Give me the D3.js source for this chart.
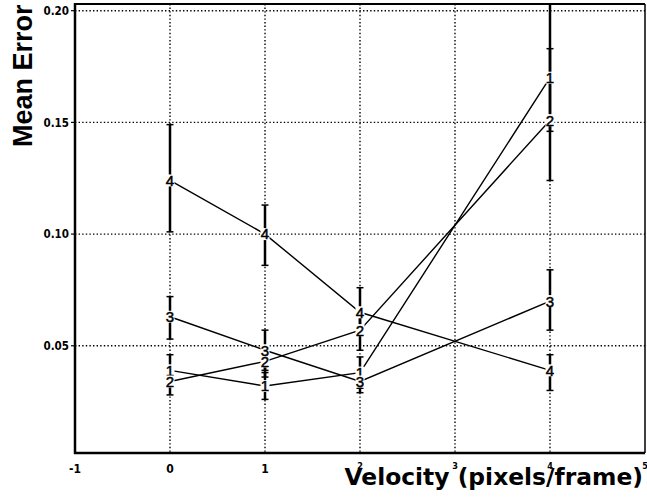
<!DOCTYPE html>
<html>
<head>
<meta charset="utf-8">
<script src="https://cdn.jsdelivr.net/npm/d3@7/dist/d3.min.js"></script>
<style>
  body { margin: 0; background: #fff; }
</style>
</head>
<body>
<script>
// data
var velocity = [0, 1, 2, 4];
var labels = ["1", "2", "3", "4"];

var mean1 = [0.039, 0.032, 0.038, 0.170];
var low1  = [0.032, 0.026, 0.031, 0.146];
var high1 = [0.046, 0.038, 0.045, 0.203];

var mean2 = [0.034, 0.043, 0.057, 0.151];
var low2  = [0.028, 0.036, 0.048, 0.124];
var high2 = [0.040, 0.049, 0.066, 0.183];

var mean3 = [0.063, 0.048, 0.034, 0.070];
var low3  = [0.053, 0.039, 0.029, 0.057];
var high3 = [0.072, 0.057, 0.039, 0.084];

var mean4 = [0.124, 0.100, 0.065, 0.039];
var low4  = [0.101, 0.086, 0.056, 0.030];
var high4 = [0.149, 0.113, 0.076, 0.046];

var xTicks = [-1, 0, 1, 2, 3, 4, 5];
var xGrid = [0, 1, 2, 3, 4];
var yTicks = [0.05, 0.10, 0.15, 0.20];

var width = 647, height = 497;
var pLeft = 75, pRight = 645, pTop = 4, pBottom = 453;

var series = [
  {name: labels[0], mean: mean1, low: low1, high: high1},
  {name: labels[1], mean: mean2, low: low2, high: high2},
  {name: labels[2], mean: mean3, low: low3, high: high3},
  {name: labels[3], mean: mean4, low: low4, high: high4}
];

var svg = d3.select("body").append("svg")
    .attr("width", width)
    .attr("height", height);

var x = d3.scaleLinear().domain([-1, 5]).range([pLeft, pRight]);
var y = d3.scaleLinear().domain([0.002, 0.203]).range([pBottom, pTop]);

// dotted grid
var grid = svg.append("g")
    .attr("stroke", "#000")
    .attr("stroke-width", 1.4)
    .attr("stroke-dasharray", "1.4,2.2");

grid.selectAll("line.vx")
  .data(xGrid)
  .enter().append("line")
    .attr("class", "vx")
    .attr("x1", function(d) { return x(d); })
    .attr("x2", function(d) { return x(d); })
    .attr("y1", pTop)
    .attr("y2", pBottom);

grid.selectAll("line.hy")
  .data(yTicks)
  .enter().append("line")
    .attr("class", "hy")
    .attr("x1", pLeft)
    .attr("x2", pRight)
    .attr("y1", function(d) { return y(d); })
    .attr("y2", function(d) { return y(d); });

// connecting lines
var line = d3.line()
    .x(function(d) { return x(d[0]); })
    .y(function(d) { return y(d[1]); });

svg.append("g").selectAll("path")
  .data(series)
  .enter().append("path")
    .attr("fill", "none")
    .attr("stroke", "#000")
    .attr("stroke-width", 1.4)
    .attr("d", function(s) { return line(velocity.map(function(v, i) { return [v, s.mean[i]]; })); });

// error bars
var bars = [];
series.forEach(function(s) {
  velocity.forEach(function(v, i) {
    bars.push({v: v, lo: s.low[i], hi: s.high[i], m: s.mean[i], name: s.name});
  });
});

var eb = svg.append("g").attr("stroke", "#000");

eb.selectAll("line.bar")
  .data(bars)
  .enter().append("line")
    .attr("class", "bar")
    .attr("stroke-width", 2.5)
    .attr("x1", function(d) { return x(d.v); })
    .attr("x2", function(d) { return x(d.v); })
    .attr("y1", function(d) { return y(d.lo); })
    .attr("y2", function(d) { return y(d.hi); });

eb.selectAll("line.caphi")
  .data(bars)
  .enter().append("line")
    .attr("class", "caphi")
    .attr("stroke-width", 1.5)
    .attr("x1", function(d) { return x(d.v) - 3.5; })
    .attr("x2", function(d) { return x(d.v) + 3.5; })
    .attr("y1", function(d) { return y(d.hi); })
    .attr("y2", function(d) { return y(d.hi); });

eb.selectAll("line.caplo")
  .data(bars)
  .enter().append("line")
    .attr("class", "caplo")
    .attr("stroke-width", 1.5)
    .attr("x1", function(d) { return x(d.v) - 3.5; })
    .attr("x2", function(d) { return x(d.v) + 3.5; })
    .attr("y1", function(d) { return y(d.lo); })
    .attr("y2", function(d) { return y(d.lo); });

// series number markers
var marks = svg.append("g").selectAll("g")
  .data(bars)
  .enter().append("g")
    .attr("transform", function(d) { return "translate(" + x(d.v) + "," + y(d.m) + ")"; });

marks.append("rect")
    .attr("x", -4.5)
    .attr("y", -6)
    .attr("width", 9)
    .attr("height", 12)
    .attr("fill", "#fff");

marks.append("text")
    .attr("text-anchor", "middle")
    .attr("dy", "0.36em")
    .attr("font-family", "Liberation Sans, Arial, sans-serif")
    .attr("font-size", 15)
    .attr("stroke", "#000")
    .attr("stroke-width", 0.5)
    .text(function(d) { return d.name; });

// frame
svg.append("line").attr("x1", pLeft).attr("x2", pLeft).attr("y1", pTop - 1).attr("y2", pBottom + 1)
    .attr("stroke", "#000").attr("stroke-width", 2.5);
svg.append("line").attr("x1", pLeft - 1).attr("x2", pRight).attr("y1", pBottom).attr("y2", pBottom)
    .attr("stroke", "#000").attr("stroke-width", 2.5);
svg.append("line").attr("x1", pLeft).attr("x2", pRight).attr("y1", pTop).attr("y2", pTop)
    .attr("stroke", "#000").attr("stroke-width", 2);
svg.append("line").attr("x1", pRight).attr("x2", pRight).attr("y1", pTop).attr("y2", pBottom)
    .attr("stroke", "#000").attr("stroke-width", 1.5);

// small outer ticks on the y axis
svg.append("g").selectAll("line")
  .data(yTicks)
  .enter().append("line")
    .attr("x1", pLeft - 4)
    .attr("x2", pLeft)
    .attr("y1", function(d) { return y(d); })
    .attr("y2", function(d) { return y(d); })
    .attr("stroke", "#000")
    .attr("stroke-width", 1.2);

// tick labels
var tickFont = "DejaVu Sans Condensed, DejaVu Sans, sans-serif";

svg.append("g").selectAll("text")
  .data(yTicks)
  .enter().append("text")
    .attr("x", pLeft - 6)
    .attr("y", function(d) { return y(d); })
    .attr("dy", "0.36em")
    .attr("text-anchor", "end")
    .attr("font-family", tickFont)
    .attr("font-weight", "bold")
    .attr("font-size", 11.5)
    .text(function(d) { return d3.format(".2f")(d); });

svg.append("g").selectAll("text")
  .data(xTicks)
  .enter().append("text")
    .attr("x", function(d) { return x(d); })
    .attr("y", function(d) { return d >= 2 ? 469 : 473; })
    .attr("text-anchor", "middle")
    .attr("font-family", tickFont)
    .attr("font-weight", "bold")
    .attr("font-size", function(d) { return d >= 2 ? 9 : 12; })
    .text(function(d) { return d; });

// axis titles
svg.append("text")
    .attr("x", 643)
    .attr("y", 485)
    .attr("text-anchor", "end")
    .attr("font-family", "DejaVu Sans, sans-serif")
    .attr("font-weight", "bold")
    .attr("font-size", 23.4)
    .text("Velocity (pixels/frame)");

svg.append("text")
    .attr("transform", "translate(32,147) rotate(-90)")
    .attr("text-anchor", "start")
    .attr("font-family", "Liberation Sans, Arial, sans-serif")
    .attr("font-weight", "bold")
    .attr("font-size", 27)
    .text("Mean Error");
</script>
</body>
</html>
